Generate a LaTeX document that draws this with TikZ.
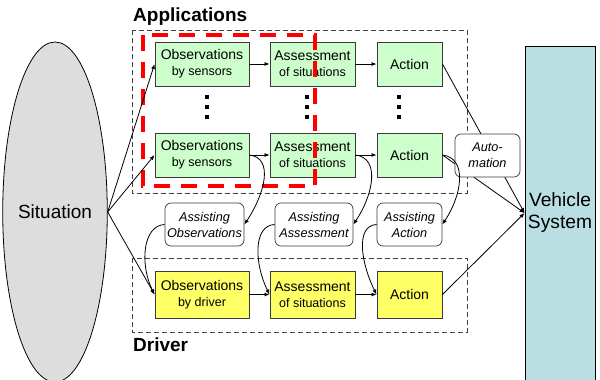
\documentclass[tikz,border=0pt]{standalone}
\usepackage{fontspec}
\setmainfont{Liberation Sans}
\usetikzlibrary{shapes.geometric,arrows.meta}

\definecolor{boxgreen}{HTML}{CCFFCC}
\definecolor{boxyellow}{HTML}{FFFF66}
\definecolor{vehblue}{HTML}{B9DFE3}
\definecolor{sitgray}{HTML}{DDDDDD}
\definecolor{edgegray}{HTML}{3A3A3A}
\definecolor{frame}{HTML}{404040}

\begin{document}
\begin{tikzpicture}[x=1pt,y=-1pt,
  stagebox/.style={draw=edgegray, line width=0.9pt, inner sep=0pt, align=center,
                   font=\fontsize{14}{16}\selectfont, minimum height=44pt},
  greenbox/.style={stagebox, fill=boxgreen},
  yellowbox/.style={stagebox, fill=boxyellow, minimum height=47pt},
  obswidth/.style={minimum width=94pt},
  asswidth/.style={minimum width=85pt},
  actwidth/.style={minimum width=65pt},
  helpbox/.style={draw=edgegray, line width=0.7pt, fill=white, rounded corners=6pt,
                  inner sep=0pt, align=center, minimum height=43pt,
                  font=\fontsize{12.7}{16}\selectfont\itshape},
  groupframe/.style={draw=frame, line width=0.9pt, dash pattern=on 5pt off 3pt},
  grouptitle/.style={anchor=west, inner sep=0pt, font=\fontsize{19}{22}\selectfont\bfseries},
  arr/.style={line width=0.8pt, -{Latex[length=5pt,width=4pt]}},
  small/.style={font=\fontsize{12.5}{15}\selectfont}
]
\useasboundingbox (0,0) rectangle (600,380);

% group frames and titles
\draw[groupframe] (132,30) rectangle (467,193);
\draw[groupframe] (132,258) rectangle (467,332);
\node[grouptitle] (apptitle) at (133,17) {Applications};
\node[grouptitle] (drvtitle) at (133,345) {Driver};

% situation and vehicle
\node[ellipse, draw=black, line width=0.8pt, fill=sitgray, minimum width=86pt,
      minimum height=340pt, inner sep=0pt, font=\fontsize{19}{22}\selectfont]
      (sit) at (55,212) {Situation};
\node[draw=black, line width=0.9pt, fill=vehblue, minimum width=70pt, minimum height=334pt,
      inner sep=0pt, align=center, font=\fontsize{19.2}{22}\selectfont]
      (veh) at (560,213) {Vehicle\\System};

% application rows
\node[greenbox, obswidth] (o1) at (202,64) {Observations\\{\fontsize{12.5}{15}\selectfont by sensors}};
\node[greenbox, asswidth] (s1) at (312.5,64) {Assessment\\{\fontsize{12.5}{15}\selectfont of situations}};
\node[greenbox, actwidth] (a1) at (409.5,64) {Action};
\node[greenbox, obswidth] (o2) at (202,155) {Observations\\{\fontsize{12.5}{15}\selectfont by sensors}};
\node[greenbox, asswidth] (s2) at (312.5,155) {Assessment\\{\fontsize{12.5}{15}\selectfont of situations}};
\node[greenbox, actwidth] (a2) at (409.5,155) {Action};

% driver row
\node[yellowbox, obswidth] (od) at (202,294.5) {Observations\\{\fontsize{12.5}{15}\selectfont by driver}};
\node[yellowbox, asswidth] (sd) at (312.5,294.5) {Assessment\\{\fontsize{12.5}{15}\selectfont of situations}};
\node[yellowbox, actwidth] (ad) at (409.5,294.5) {Action};

% assistance boxes
\node[helpbox, minimum width=79pt] (ao) at (204.5,224.5) {Assisting\\Observations};
\node[helpbox, minimum width=78pt] (aa) at (314,224.5) {Assisting\\Assessment};
\node[helpbox, minimum width=65pt] (aact) at (409.5,224.5) {Assisting\\Action};

% vertical ellipsis dots
\foreach \x in {207,307,399}
  \foreach \y in {97,107,117}
    \fill (\x-1.6,\y-1.6) rectangle (\x+1.6,\y+1.6);

% red emphasis frame
\draw[red, line width=4pt, dash pattern=on 16pt off 11pt] (143,35) rectangle (315,186);

% situation to observations
\draw[arr] (sit.east) -- (o1.west);
\draw[arr] (sit.east) -- (o2.west);
\draw[arr] (sit.east) -- (od.west);

% chains
\draw[arr] (o1) -- (s1);
\draw[arr] (s1) -- (a1);
\draw[arr] (o2) -- (s2);
\draw[arr] (s2) -- (a2);
\draw[arr] (od) -- (sd);
\draw[arr] (sd) -- (ad);

% actions to vehicle
\draw[arr] (a1.east) -- (veh.west);
\draw[arr] (a2.east) -- (veh.west);
\draw[arr] (ad.east) -- (veh.west);

% automation sits on the action lines
\node[helpbox, minimum width=65pt] (auto) at (487.5,155.5)
     {\fontsize{12.7}{14}\selectfont Auto-\\mation};

% assistance loops
\draw[arr] (o2.east) .. controls +(25,3) and +(20,-30) .. (ao.east);
\draw[arr] (ao.west) .. controls +(-22,1) and +(-15,-30) .. (od.west);
\draw[arr] (s2.east) .. controls +(25,3) and +(20,-30) .. (aa.east);
\draw[arr] (aa.west) .. controls +(-22,1) and +(-15,-30) .. (sd.west);
\draw[arr] (a2.east) .. controls +(25,3) and +(20,-30) .. (aact.east);
\draw[arr] (aact.west) .. controls +(-22,1) and +(-15,-30) .. (ad.west);
\end{tikzpicture}
\end{document}
